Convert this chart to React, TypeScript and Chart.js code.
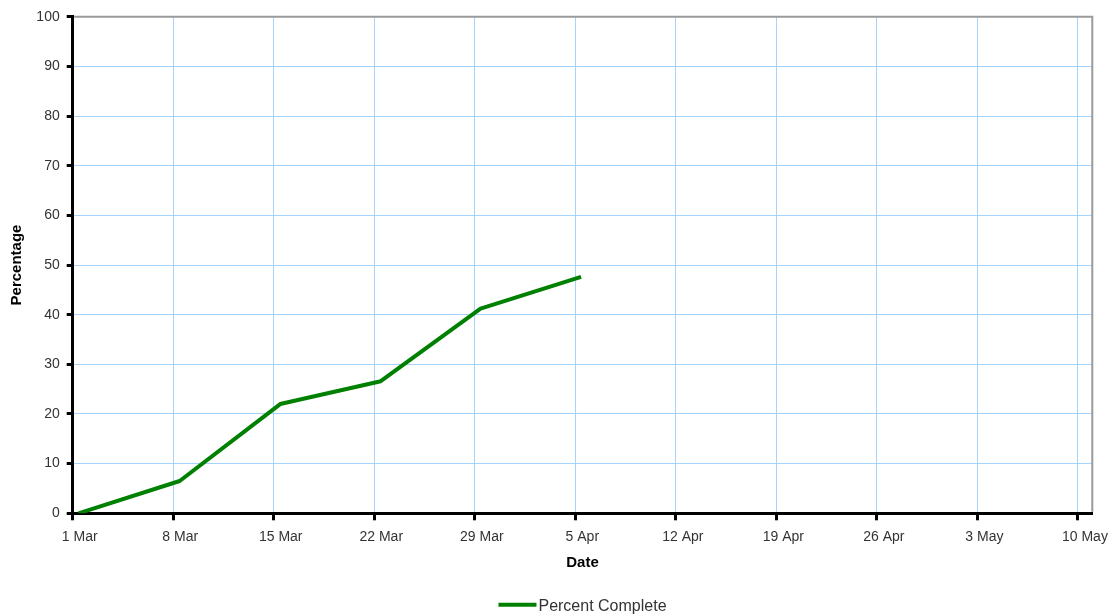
import { useEffect, useRef } from "react";
import { Chart, registerables } from "chart.js";

Chart.register(...registerables);

// Weekly tick positions (days after 1 Mar) and their labels
const tickDays = [0, 7, 14, 21, 28, 35, 42, 49, 56, 63, 70];
const tickLabels = [
  "1 Mar", "8 Mar", "15 Mar", "22 Mar", "29 Mar", "5 Apr",
  "12 Apr", "19 Apr", "26 Apr", "3 May", "10 May",
];

// Progress samples: day offset from 1 Mar and percent complete
const sampleDays = [0.4, 7.45, 14.45, 21.45, 28.4, 35.4];
const percentComplete = [0, 6.5, 22, 26.6, 41.2, 47.6];
const seriesName = "Percent Complete";

const FONT = "'Liberation Sans', Arial, Helvetica, sans-serif";
const LINE_GREEN = "#008000";
const GRID_BLUE = "#a6d2ff";

// Gray frame on the top and right edges of the plot area
const framePlugin = {
  id: "plotFrame",
  beforeDatasetsDraw(chart: any) {
    const { ctx, chartArea } = chart;
    const { left, top, right, bottom } = chartArea;
    ctx.save();
    ctx.strokeStyle = "#9a9a9a";
    ctx.lineWidth = 2;
    ctx.beginPath();
    ctx.moveTo(left + 1.5, top);
    ctx.lineTo(right, top);
    ctx.lineTo(right, bottom - 1.5);
    ctx.stroke();
    ctx.restore();
  },
};

// Single-entry legend centred under the plot area
const legendPlugin = {
  id: "centeredLegend",
  afterDraw(chart: any) {
    const { ctx, chartArea } = chart;
    const ds = chart.data.datasets[0];
    const label: string = ds.label;
    ctx.save();
    ctx.font = `16px ${FONT}`;
    const textW = ctx.measureText(label).width;
    const lineW = 38;
    const gap = 2;
    const total = lineW + gap + textW;
    const cx = (chartArea.left + chartArea.right) / 2;
    const x0 = cx - total / 2;
    const y = 604.7;
    ctx.strokeStyle = ds.borderColor;
    ctx.lineWidth = 4;
    ctx.beginPath();
    ctx.moveTo(x0, y);
    ctx.lineTo(x0 + lineW, y);
    ctx.stroke();
    ctx.fillStyle = "#333";
    ctx.textAlign = "left";
    ctx.textBaseline = "alphabetic";
    ctx.fillText(label, x0 + lineW + gap, 611);
    ctx.restore();
  },
};

export default function App() {
  const canvasRef = useRef<HTMLCanvasElement | null>(null);

  useEffect(() => {
    if (!canvasRef.current) return;
    const chart = new Chart(canvasRef.current, {
      type: "line",
      data: {
        datasets: [
          {
            label: seriesName,
            data: sampleDays.map((d, i) => ({ x: d, y: percentComplete[i] })),
            borderColor: LINE_GREEN,
            backgroundColor: LINE_GREEN,
            borderWidth: 4,
            borderJoinStyle: "round",
            pointRadius: 0,
            pointHoverRadius: 0,
            tension: 0,
            fill: false,
          },
        ],
      },
      options: {
        responsive: false,
        animation: false,
        events: [],
        layout: {
          padding: { left: 0, top: 16.7, right: 18.7, bottom: 30.7 },
        },
        plugins: {
          legend: { display: false },
          tooltip: { enabled: false },
        },
        scales: {
          x: {
            type: "linear",
            min: 0,
            max: 71,
            afterBuildTicks: (scale: any) => {
              scale.ticks = tickDays.map((v) => ({ value: v }));
            },
            afterFit: (scale: any) => {
              scale.height = 70;
            },
            ticks: {
              autoSkip: false,
              maxRotation: 0,
              labelOffset: 7,
              padding: 8,
              color: "#333",
              font: { family: FONT, size: 14 },
              callback: (value: any) => {
                const i = tickDays.indexOf(Number(value));
                return i >= 0 ? tickLabels[i] : "";
              },
            },
            grid: {
              color: GRID_BLUE,
              lineWidth: 1,
              drawTicks: true,
              tickLength: 7,
              tickColor: "#000",
              tickWidth: 3,
            },
            border: { display: true, color: "#000", width: 3 },
            title: {
              display: true,
              text: "Date",
              color: "#000",
              font: { family: FONT, size: 15, weight: "bold" },
              padding: { top: 0, bottom: 11.3 },
            },
          },
          y: {
            type: "linear",
            min: 0,
            max: 100,
            afterFit: (scale: any) => {
              scale.width = 72.7;
            },
            ticks: {
              stepSize: 10,
              padding: 7,
              color: "#333",
              font: { family: FONT, size: 14 },
            },
            grid: {
              color: GRID_BLUE,
              lineWidth: 1,
              drawTicks: true,
              tickLength: 6,
              tickColor: "#000",
              tickWidth: 3,
            },
            border: { display: true, color: "#000", width: 3 },
            title: {
              display: true,
              text: "Percentage",
              color: "#000",
              font: { family: FONT, size: 15, weight: "bold" },
              padding: { top: 8, bottom: 0 },
            },
          },
        },
      },
      plugins: [framePlugin, legendPlugin],
    });
    return () => chart.destroy();
  }, []);

  return (
    <div style={{ position: "absolute", left: 0, top: 0, width: 1111, height: 614, background: "#fff" }}>
      <canvas ref={canvasRef} width={1111} height={614} />
    </div>
  );
}
